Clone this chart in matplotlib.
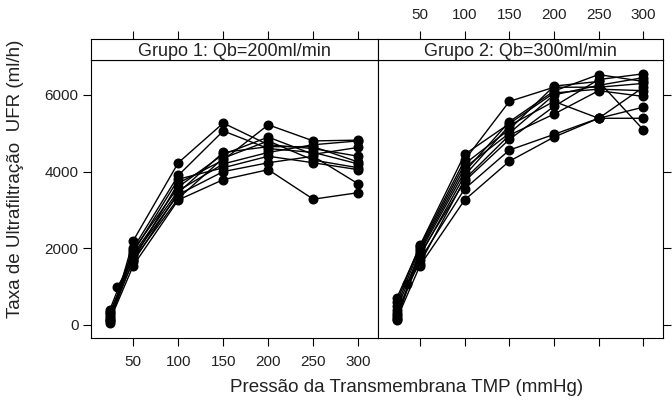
import matplotlib
matplotlib.use('Agg')
import matplotlib.pyplot as plt

plt.rcParams['font.family'] = ['Liberation Sans', 'DejaVu Sans']

# pressoes (mmHg) e taxas de ultrafiltracao (ml/h) por dialisador
grupos = ['Grupo 1: Qb=200ml/min', 'Grupo 2: Qb=300ml/min']

tmp_g1 = [
    [24, 50, 100, 150, 200, 250, 300],
    [24, 50, 100, 150, 200, 250, 300],
    [24, 50, 100, 150, 200, 250, 300],
    [24, 50, 100, 150, 200, 250, 300],
    [32, 50, 100, 150, 200, 250, 300],
    [24, 50, 100, 150, 200, 250, 300],
    [24, 50, 100, 150, 200, 250, 300],
    [24, 50, 100, 150, 200, 250, 300],
    [24, 50, 100, 150, 200, 250, 300],
    [24, 50, 100, 150, 200, 250, 300],
]
ufr_g1 = [
    [120, 1550, 3260, 3790, 4050, 3280, 3450],
    [300, 1800, 3400, 4000, 4230, 4400, 3680],
    [60, 2200, 4230, 5265, 4700, 4600, 4400],
    [200, 2000, 3900, 5060, 4600, 4500, 4200],
    [980, 1700, 3700, 4300, 5220, 4800, 4820],
    [400, 1950, 3600, 4450, 4900, 4450, 4630],
    [250, 1850, 3500, 4200, 4500, 4700, 4800],
    [150, 1700, 3300, 4350, 4800, 4300, 4100],
    [350, 1650, 3450, 4500, 4650, 4650, 4250],
    [100, 1900, 3800, 4100, 4400, 4230, 4050],
]

tmp_g2 = [
    [24, 50, 100, 150, 200, 250, 300],
    [24, 50, 100, 150, 200, 250, 300],
    [24, 50, 100, 150, 200, 250, 300],
    [24, 50, 100, 150, 200, 250, 300],
    [24, 50, 100, 150, 200, 250, 300],
    [24, 50, 100, 150, 200, 250, 300],
    [36, 50, 100, 150, 200, 250, 300],
    [24, 50, 100, 150, 200, 250, 300],
    [24, 50, 100, 150, 200, 250, 300],
    [24, 50, 100, 150, 200, 250, 300],
]
ufr_g2 = [
    [150, 1550, 3260, 4270, 4900, 5390, 6200],
    [300, 1700, 3550, 4560, 4970, 5390, 5680],
    [700, 2050, 4300, 5830, 6200, 6200, 6300],
    [400, 1900, 4000, 5300, 6100, 6530, 6350],
    [200, 1800, 3900, 5200, 5830, 5390, 5390],
    [500, 2000, 4200, 5100, 6230, 6350, 5090],
    [1070, 1600, 3800, 4950, 5500, 6110, 5960],
    [120, 1950, 4100, 5000, 6000, 6250, 6450],
    [250, 1850, 3750, 4840, 5700, 6400, 6550],
    [600, 2080, 4450, 5250, 6050, 6150, 6110],
]

xticks = [50, 100, 150, 200, 250, 300]
yticks = [0, 2000, 4000, 6000]
xlim = (3, 322)
ylim = (-340, 6910)

W, H = 672, 404
fig = plt.figure(figsize=(W / 100, H / 100), dpi=100)

def box(l, t, r, b):
    return [l / W, 1 - b / H, (r - l) / W, (b - t) / H]

paineis = [(91, 378), (378, 663)]
dados = [(tmp_g1, ufr_g1), (tmp_g2, ufr_g2)]
cor_txt = '#222222'

for i, ((l, r), (xs, ys)) in enumerate(zip(paineis, dados)):
    ax = fig.add_axes(box(l, 60, r, 338))
    for x, y in zip(xs, ys):
        ax.plot(x, y, '-o', color='black', lw=1.0, ms=6.2, mec='black')
    ax.set_xlim(xlim)
    ax.set_ylim(ylim)
    ax.set_xticks(xticks)
    ax.set_yticks(yticks)
    ax.tick_params(direction='out', length=6, width=0.8, labelsize=11,
                   color='black', labelcolor=cor_txt, pad=3)
    ax.tick_params(axis='x', pad=6)
    if i == 0:
        ax.tick_params(axis='x', bottom=True, labelbottom=True)
        ax.tick_params(axis='y', left=True, labelleft=True, right=False)
    else:
        ax.tick_params(axis='x', bottom=True, labelbottom=False)
        ax.tick_params(axis='y', left=False, labelleft=False,
                       right=True, labelright=False)
    for s in ax.spines.values():
        s.set_linewidth(0.8)

    # faixa com o nome do grupo
    st = fig.add_axes(box(l, 39, r, 60))
    st.set_xlim(xlim)
    st.set_yticks([])
    st.set_xticks(xticks)
    st.xaxis.tick_top()
    st.tick_params(axis='x', direction='out', length=6, width=0.8,
                   labelsize=11, labelcolor=cor_txt, pad=6,
                   labeltop=(i == 1), bottom=False)
    for s in st.spines.values():
        s.set_linewidth(0.8)
    st.text(0.5, 0.42, grupos[i], transform=st.transAxes, ha='center',
            va='center', fontsize=13, color=cor_txt)

fig.text(407 / W, 1 - 388 / H, 'Pressão da Transmembrana TMP (mmHg)',
         ha='center', va='center', fontsize=13.5, color=cor_txt)
fig.text(16 / W, 1 - 179 / H, 'Taxa de Ultrafiltração  UFR (ml/h)',
         rotation=90, ha='center', va='center', fontsize=13.5, color=cor_txt)

fig.savefig('out.png', dpi=100)
